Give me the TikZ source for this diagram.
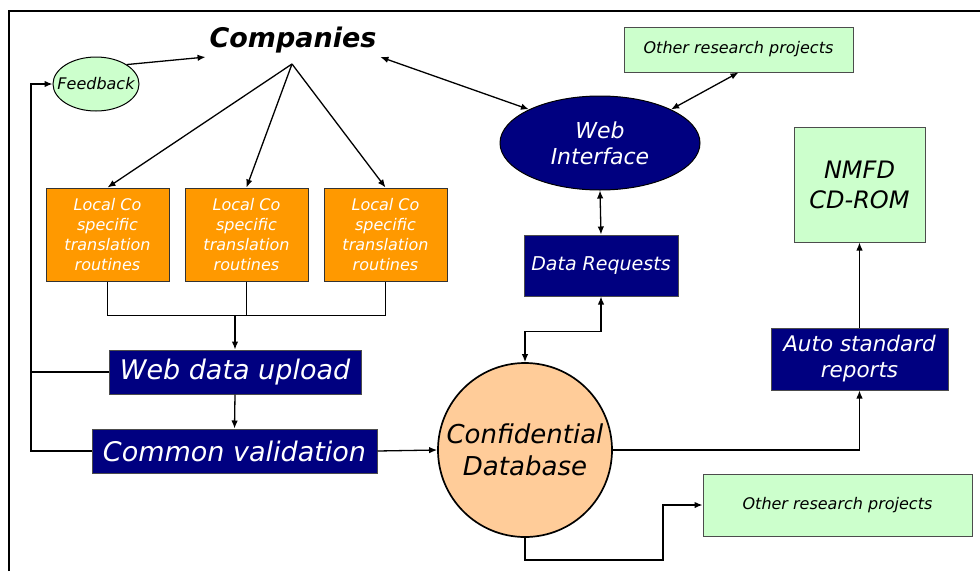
\documentclass[tikz,border=0pt]{standalone}
\usepackage{fontspec}
\setmainfont{DejaVu Sans}
\usetikzlibrary{shapes.geometric,arrows.meta}
\definecolor{navy}{HTML}{000080}
\definecolor{routeorange}{HTML}{FF9900}
\definecolor{palegreen}{HTML}{CCFFCC}
\definecolor{peach}{HTML}{FFCC99}
\begin{document}
\begin{tikzpicture}[x=1pt,y=-1pt,line width=1.3pt,>={Latex[length=8pt,width=6.5pt]},
  navybox/.style={draw=black!70,line width=1pt,fill=navy,text=white,font=\itshape,align=center,inner sep=0pt},
  localbox/.style={draw=black!80,line width=1pt,fill=routeorange,text=white,align=center,inner sep=0pt,
    minimum width=123pt,minimum height=93pt,font=\itshape\fontsize{16}{20}\selectfont},
  greenbox/.style={draw=black!70,line width=1pt,fill=palegreen,align=center,inner sep=0pt,font=\itshape}]
\useasboundingbox (0,0) rectangle (980,571);
\draw[line width=2pt] (9,571)--(9,11)--(980,11);
% nodes
\node[font=\bfseries\itshape\fontsize{27}{30}\selectfont] (comp) at (293,40) {Companies};
\node[ellipse,draw,line width=1pt,fill=palegreen,minimum width=86pt,minimum height=54pt,inner sep=0pt,
  font=\itshape\fontsize{16}{18}\selectfont] (fb) at (96,84) {\makebox[0pt]{Feedback}};
\node[ellipse,draw,line width=1pt,fill=navy,text=white,minimum width=200pt,minimum height=94pt,inner sep=0pt,
  align=center,font=\itshape\fontsize{22}{26}\selectfont] (web) at (600,143) {Web\\Interface};
\node[greenbox,minimum width=229pt,minimum height=45pt,font=\itshape\fontsize{16}{18}\selectfont]
  (othertop) at (738.5,49.5) {Other research projects};
\node[localbox] (loc1) at (107.5,234.5) {Local Co\\specific\\translation\\routines};
\node[localbox] (loc2) at (246.5,234.5) {Local Co\\specific\\translation\\routines};
\node[localbox] (loc3) at (385.5,234.5) {Local Co\\specific\\translation\\routines};
\node[navybox,minimum width=252pt,minimum height=44pt,font=\itshape\fontsize{27}{30}\selectfont]
  (upload) at (235,372) {Web data upload};
\node[navybox,minimum width=285pt,minimum height=44pt,font=\itshape\fontsize{27}{30}\selectfont]
  (valid) at (234.5,451) {Common validation};
\node[circle,draw,line width=1.7pt,fill=peach,minimum size=174pt,inner sep=0pt,align=center,
  font=\itshape\fontsize{26}{32}\selectfont] (db) at (525,450) {Confidential\\Database};
\node[navybox,minimum width=154pt,minimum height=61pt,font=\itshape\fontsize{19}{22}\selectfont]
  (dreq) at (601,265.5) {Data Requests};
\node[navybox,minimum width=177pt,minimum height=62pt,font=\itshape\fontsize{21.5}{26}\selectfont]
  (auto) at (859.5,359) {Auto standard\\reports};
\node[greenbox,minimum width=131pt,minimum height=115pt,font=\itshape\fontsize{24}{30}\selectfont]
  (nmfd) at (859.5,184.5) {NMFD\\CD-ROM};
\node[greenbox,minimum width=269pt,minimum height=62pt,font=\itshape\fontsize{16}{18}\selectfont]
  (otherbot) at (837.5,505) {Other research projects};
\coordinate (fan) at (292,64);
\coordinate (merge) at (235,315);
\coordinate (loop) at (31,451);
\coordinate (bend) at (663,560);
% connectors
\draw[->] (fb.north east) -- (comp.south west);
\draw[->] (fan) -- (loc1.north);
\draw[->] (fan) -- (loc2.north);
\draw[->] (fan) -- (loc3.north);
\draw[<->] (comp.south east) -- (web.north west);
\draw[<->] (web.north east) -- (othertop.south);
\draw[<->] (web.south) -- (dreq.north);
\draw[<->] (dreq.south) -- ++(0,35) -| (db.north);
\draw (loc1.south) -- ++(0,34) -| (loc3.south);
\draw (loc2.south) -- ++(0,34);
\draw[->] (merge) -- (upload.north);
\draw[->] (upload.south) -- (valid.north);
\draw (upload.west) -- (upload.west -| loop);
\draw[->] (valid.west) -- (loop) |- (fb.west);
\draw[->] (valid.east) -- (db.west);
\draw[->] (db.east) -| (auto.south);
\draw[->] (auto.north) -- (nmfd.south);
\draw[->] (db.south) |- (bend) |- (otherbot.west);
\end{tikzpicture}
\end{document}
